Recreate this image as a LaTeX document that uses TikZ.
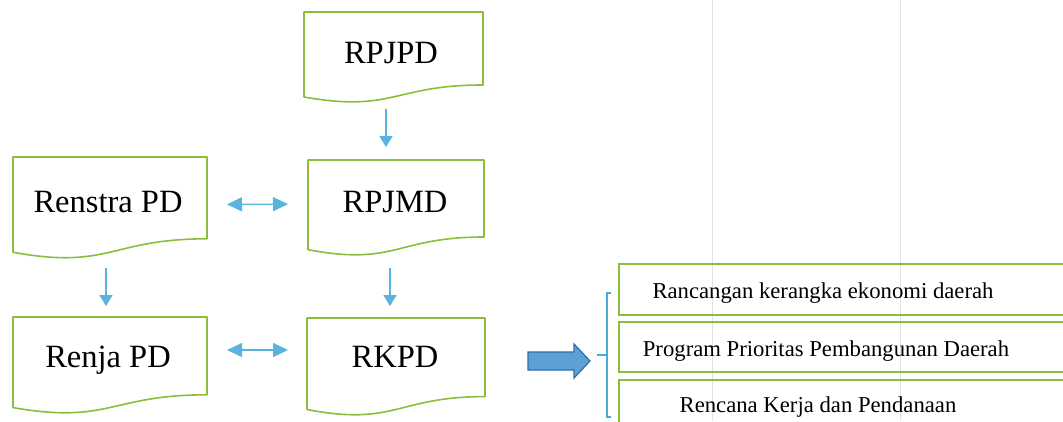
\documentclass[tikz,border=0pt]{standalone}
\usepackage{fontspec}
\setmainfont{Liberation Serif}
\usetikzlibrary{calc,arrows.meta}
\definecolor{docgreen}{RGB}{140,190,62}
\definecolor{arrblue}{RGB}{88,180,222}
\definecolor{bracecol}{RGB}{70,170,220}
\definecolor{blkfill}{RGB}{92,160,212}
\definecolor{blkdraw}{RGB}{50,108,168}
\definecolor{scan}{RGB}{226,226,226}
\tikzset{
  docbox/.style={rectangle, inner sep=0pt, outer sep=0pt},
  docline/.style={draw=docgreen, line width=1.6pt, line join=round},
  bigtext/.style={font=\fontsize{32.5}{36}\selectfont, anchor=base, inner sep=0pt},
  smalltext/.style={font=\fontsize{22.7}{26}\selectfont, anchor=base, inner sep=0pt},
  listbox/.style={draw=docgreen, line width=1.6pt, rectangle, inner sep=0pt, outer sep=0pt, anchor=north west},
  thinarr/.style={draw=arrblue, line width=1.3pt, -{Triangle[length=11pt,width=13pt]}},
  dblarr/.style={draw=arrblue, line width=1.3pt, {Triangle[length=15pt,width=14pt]}-{Triangle[length=15pt,width=14pt]}},
  bracel/.style={draw=bracecol, line width=1.1pt},
  blockarr/.style={fill=blkfill, draw=blkdraw, line width=1.2pt, line join=miter}
}
\newcommand\docoutline[1]{%
  \draw[docline] (#1.north west) -- (#1.north east)
    -- ($(#1.north east)!0.802!(#1.south east)$)
    .. controls ($(#1.north)!0.802!(#1.south)$) and ($(#1.north)!1.1075!(#1.south)$)
    .. ($(#1.north west)!0.934!(#1.south west)$) -- cycle;}
\begin{document}
\begin{tikzpicture}[x=1pt,y=-1pt]
\useasboundingbox[fill=white] (0,0) rectangle (1063,421);
\clip (0,0) rectangle (1063,421);
% faint scan lines
\draw[scan, line width=0.9pt] (712,0) -- (712,421);
\draw[scan, line width=0.9pt] (900,0) -- (900,421);
% document boxes
\node[docbox, minimum width=179pt, minimum height=91pt, anchor=north west] (rpjpd) at (304,12) {};
\node[docbox, minimum width=194pt, minimum height=102pt, anchor=north west] (renstra) at (13,157) {};
\node[docbox, minimum width=176pt, minimum height=96pt, anchor=north west] (rpjmd) at (308,160) {};
\node[docbox, minimum width=194pt, minimum height=97pt, anchor=north west] (renja) at (13,317) {};
\node[docbox, minimum width=178pt, minimum height=98pt, anchor=north west] (rkpd) at (307,318) {};
\docoutline{rpjpd}
\docoutline{renstra}
\docoutline{rpjmd}
\docoutline{renja}
\docoutline{rkpd}
\node[bigtext] (rpjpdT) at (391,63) {RPJPD};
\node[bigtext] (renstraT) at (108,212) {Renstra PD};
\node[bigtext] (rpjmdT) at (395,212) {RPJMD};
\node[bigtext] (renjaT) at (108,367) {Renja PD};
\node[bigtext] (rkpdT) at (395,367) {RKPD};
% connectors
\draw[thinarr, shorten <=6pt, shorten >=13pt] ($(rpjpd.south)+(-7.5,0)$) -- ($(rpjmd.north)+(-10,0)$);
\draw[thinarr, shorten <=9pt, shorten >=11pt] ($(renstra.south)+(-4,0)$) -- ($(renja.north)+(-4,0)$);
\draw[thinarr, shorten <=12pt, shorten >=12pt] ($(rpjmd.south)+(-6,0)$) -- ($(rkpd.north)+(-6,0)$);
\draw[dblarr, shorten <=20pt, shorten >=20pt] ($(renstra.east)+(0,-3.5)$) -- ($(rpjmd.west)+(0,-4)$);
\draw[dblarr, shorten <=20pt, shorten >=19pt] ($(renja.east)+(0,-15.5)$) -- ($(rkpd.west)+(0,-17)$);
% block arrow
\draw[blockarr] (528,352) -- (574,352) -- (574,344) -- (590,361) -- (574,378) -- (574,370) -- (528,370) -- cycle;
% brace
\coordinate (brtop) at (611,293);
\coordinate (brbot) at (611,417);
\coordinate (brmid) at (597,355);
\draw[bracel] (brtop) -- ++(-4,0) |- (brbot);
\draw[bracel] (brmid) -- ++(10,0);
% list boxes
\node[listbox, minimum width=470pt, minimum height=51pt] (b1) at (619,264) {};
\node[listbox, minimum width=470pt, minimum height=50pt] (b2) at (619,322) {};
\node[listbox, minimum width=470pt, minimum height=60pt] (b3) at (619,380) {};
\node[smalltext] (b1T) at (823,298) {Rancangan kerangka ekonomi daerah};
\node[smalltext] (b2T) at (826,356) {Program Prioritas Pembangunan Daerah};
\node[smalltext] (b3T) at (818,412) {Rencana Kerja dan Pendanaan};
\end{tikzpicture}
\end{document}
